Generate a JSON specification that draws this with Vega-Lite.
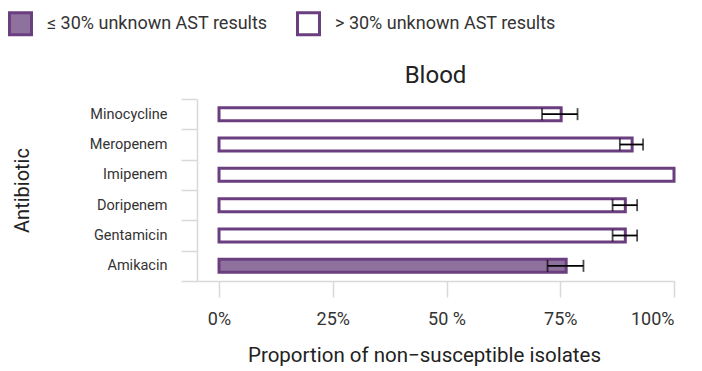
{
  "$schema": "https://vega.github.io/schema/vega-lite/v6.json",
  "width": 477,
  "height": 182,
  "autosize": {"type": "none"},
  "padding": {"left": 197, "top": 99, "right": 28, "bottom": 90},
  "background": "white",
  "title": {"text": "Blood", "fontSize": 24, "font": "Roboto", "fontWeight": "normal", "color": "#222222", "offset": 16, "dy": 93, "anchor": "middle"},
  "config": {"view": {"stroke": null}, "font": "Roboto"},
  "data": {"values": [
    {"antibiotic": "Amikacin", "value": 76.3, "lo": 72.2, "hi": 80.1, "group": "≤ 30% unknown AST results"},
    {"antibiotic": "Gentamicin", "value": 89.3, "lo": 86.5, "hi": 91.9, "group": "> 30% unknown AST results"},
    {"antibiotic": "Doripenem", "value": 89.3, "lo": 86.5, "hi": 91.9, "group": "> 30% unknown AST results"},
    {"antibiotic": "Imipenem", "value": 100, "lo": null, "hi": null, "group": "> 30% unknown AST results"},
    {"antibiotic": "Meropenem", "value": 90.8, "lo": 88.1, "hi": 93.2, "group": "> 30% unknown AST results"},
    {"antibiotic": "Minocycline", "value": 75.2, "lo": 71.0, "hi": 78.8, "group": "> 30% unknown AST results"}
  ]},
  "encoding": {
    "y": {
      "field": "antibiotic", "type": "nominal",
      "sort": ["Minocycline", "Meropenem", "Imipenem", "Doripenem", "Gentamicin", "Amikacin"],
      "scale": {"paddingInner": 0, "paddingOuter": 0},
      "axis": {
        "title": "Antibiotic", "titleFontSize": 20, "titleFontWeight": "normal", "titleColor": "#222222",
        "titleX": -165, "titleY": 91,
        "domainColor": "#d9d9d9", "domainWidth": 1.5,
        "tickColor": "#d9d9d9", "tickWidth": 1.5, "tickSize": 16, "tickBand": "extent",
        "labelPadding": 14, "labelFontSize": 14.5, "labelColor": "#333333"
      }
    }
  },
  "layer": [
    {
      "mark": {"type": "bar", "stroke": "#6b3f7f", "strokeWidth": 3, "height": {"band": 0.43}},
      "encoding": {
        "x": {
          "field": "value", "type": "quantitative",
          "scale": {"domain": [-4.84, 100], "nice": false, "zero": false},
          "axis": {
            "title": "Proportion of non−susceptible isolates",
            "values": [0, 25, 50, 75, 100],
            "labelExpr": "datum.value == 50 ? '50 %' : datum.value + '%'",
            "grid": false,
            "domainColor": "#d9d9d9", "domainWidth": 1.5,
            "tickColor": "#d9d9d9", "tickWidth": 1.5, "tickSize": 16,
            "labelPadding": 13, "labelFontSize": 18, "labelColor": "#333333",
            "titleFontSize": 20.5, "titleFontWeight": "normal", "titleColor": "#222222",
            "titlePadding": 17, "titleX": 227
          }
        },
        "fill": {
          "field": "group", "type": "nominal",
          "scale": {"domain": ["≤ 30% unknown AST results", "> 30% unknown AST results"], "range": ["#8f719e", "#ffffff"]},
          "legend": {
            "orient": "none", "legendX": -189, "legendY": -88, "direction": "horizontal", "title": null,
            "symbolType": "square", "symbolSize": 484, "symbolStrokeColor": "#6b3f7f", "symbolStrokeWidth": 3,
            "symbolOpacity": 1, "symbolFillOpacity": 1, "labelLimit": 0,
            "labelFontSize": 18, "labelColor": "#333333", "columnPadding": 23, "labelOffset": 14
          }
        }
      }
    },
    {
      "transform": [{"filter": "datum.lo != null"}],
      "mark": {"type": "errorbar", "color": "black", "thickness": 1.8, "ticks": {"size": 12, "thickness": 1.8, "color": "black"}},
      "encoding": {
        "x": {"field": "lo", "type": "quantitative", "title": "Proportion of non−susceptible isolates"},
        "x2": {"field": "hi"}
      }
    }
  ]
}
